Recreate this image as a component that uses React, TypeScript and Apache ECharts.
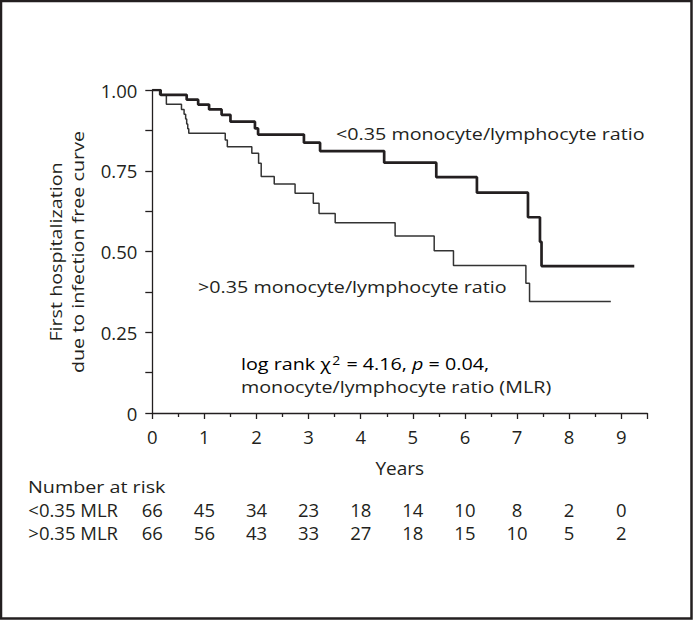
import React, { useEffect, useRef } from "react";
import * as echarts from "echarts";

const lowTimes = [0, 0.16, 0.66, 0.88, 1.09, 1.33, 1.5, 1.97, 2.03, 2.91, 3.22, 4.45, 5.45, 6.23, 7.21, 7.44, 7.47, 9.25];
const lowSurv = [1.0, 0.985, 0.97, 0.955, 0.94, 0.923, 0.902, 0.881, 0.862, 0.837, 0.811, 0.775, 0.73, 0.682, 0.606, 0.53, 0.455, 0.455];

const highTimes = [0, 0.14, 0.27, 0.56, 0.61, 0.64, 0.66, 0.68, 0.7, 0.72, 1.4, 1.44, 1.91, 2.04, 2.09, 2.34, 2.74, 3.09, 3.2, 3.51, 4.66, 5.41, 5.78, 7.17, 7.24, 8.8];
const highSurv = [1.0, 0.985, 0.956, 0.94, 0.925, 0.91, 0.895, 0.88, 0.866, 0.866, 0.845, 0.824, 0.804, 0.773, 0.732, 0.709, 0.68, 0.649, 0.618, 0.589, 0.548, 0.502, 0.457, 0.402, 0.345, 0.345];

const riskYears = [0, 1, 2, 3, 4, 5, 6, 7, 8, 9];
const riskLow = [66, 45, 34, 23, 18, 14, 10, 8, 2, 0];
const riskHigh = [66, 56, 43, 33, 27, 18, 15, 10, 5, 2];
const riskRows = ["<0.35 MLR", ">0.35 MLR"];

const yTicks = [0, 0.25, 0.5, 0.75, 1.0];

const FONT = "'Open Sans', 'Noto Sans', sans-serif";
const INK = "#231f20";
const FS = 17;
const SX = 1.16;
const NUM_FS = 18.5;

export default function App() {
  const ref = useRef<HTMLDivElement>(null);
  useEffect(() => {
    document.body.style.margin = "0";
    const chart = echarts.init(ref.current!, null, { renderer: "svg" });
    const lowData = lowTimes.map((t, i) => [t, lowSurv[i]]);
    const highData = highTimes.map((t, i) => [t, highSurv[i]]);
    const riskData: any[] = [];
    riskYears.forEach((y, i) => {
      riskData.push([y, 0, riskLow[i]]);
      riskData.push([y, 1, riskHigh[i]]);
    });
    const txt = (text: string, x: number, y: number) => ({
      type: "text",
      x,
      y,
      scaleX: SX,
      style: { text, fontSize: FS, fontFamily: FONT, fill: INK, verticalAlign: "middle" },
    });
    chart.setOption({
      animation: false,
      textStyle: { fontFamily: FONT, color: INK },
      grid: [
        { left: 152.3, top: 90, width: 495, height: 323 },
        { left: 152.3, top: 498, width: 495, height: 46 },
      ],
      xAxis: [
        {
          gridIndex: 0,
          type: "value",
          min: 0,
          max: 9.5,
          interval: 1,
          name: "Years",
          nameLocation: "middle",
          nameGap: 45,
          nameTextStyle: { fontSize: 19, color: INK, fontFamily: FONT },
          axisLine: { lineStyle: { color: INK, width: 1.3 } },
          axisTick: { length: 6, lineStyle: { color: INK, width: 1.3 } },
          minorTick: { show: true, splitNumber: 2, length: 4, lineStyle: { color: INK, width: 1.3 } },
          splitLine: { show: false },
          axisLabel: {
            margin: 14,
            fontSize: NUM_FS,
            color: INK,
            fontFamily: FONT,
            formatter: (v: number) => (Number.isInteger(v) ? String(v) : ""),
          },
        },
        {
          gridIndex: 1,
          type: "value",
          min: 0,
          max: 9.5,
          show: false,
        },
      ],
      yAxis: [
        {
          gridIndex: 0,
          type: "value",
          min: 0,
          max: 1,
          interval: 0.25,
          axisLine: { show: true, lineStyle: { color: INK, width: 1.3 } },
          axisTick: { show: true, length: 7, lineStyle: { color: INK, width: 1.3 } },
          minorTick: { show: true, splitNumber: 2, length: 7, lineStyle: { color: INK, width: 1.3 } },
          splitLine: { show: false },
          axisLabel: {
            margin: 15,
            fontSize: NUM_FS,
            color: INK,
            fontFamily: FONT,
            customValues: yTicks,
            formatter: (v: number) => (v === 0 ? "0" : v.toFixed(2)),
          },
        },
        {
          gridIndex: 1,
          type: "category",
          data: riskRows,
          inverse: true,
          axisLine: { show: false },
          axisTick: { show: false },
          splitLine: { show: false },
          axisLabel: {
            interval: 0,
            hideOverlap: false,
            margin: 124,
            align: "left",
            fontSize: 18.5,
            lineHeight: 19,
            color: INK,
            fontFamily: FONT,
          },
        },
      ],
      series: [
        {
          type: "line",
          step: "end",
          data: highData,
          symbol: "none",
          lineStyle: { color: "#333", width: 1.5 },
          z: 2,
        },
        {
          type: "line",
          step: "end",
          data: lowData,
          symbol: "none",
          lineStyle: { color: INK, width: 2.7 },
          z: 3,
        },
        {
          type: "custom",
          xAxisIndex: 1,
          yAxisIndex: 1,
          data: riskData,
          renderItem: (params: any, api: any) => {
            const p = api.coord([api.value(0), api.value(1)]);
            return {
              type: "text",
              x: p[0],
              y: p[1],
              style: {
                text: String(api.value(2)),
                fontSize: NUM_FS,
                lineHeight: 19,
                fontFamily: FONT,
                fill: INK,
                align: "center",
                verticalAlign: "middle",
              },
            };
          },
        },
      ],
      graphic: [
        {
          type: "rect",
          shape: { x: 1, y: 1, width: 690.5, height: 617.5 },
          style: { fill: "none", stroke: INK, lineWidth: 2.5 },
          silent: true,
        },
        {
          type: "text",
          x: 66,
          y: 252,
          rotation: Math.PI / 2,
          scaleX: SX,
          style: {
            text: "First hospitalization\ndue to infection free curve",
            fontSize: FS,
            fontFamily: FONT,
            fill: INK,
            align: "center",
            verticalAlign: "middle",
            lineHeight: 22,
          },
        },
        txt("<0.35 monocyte/lymphocyte ratio", 336, 133),
        txt(">0.35 monocyte/lymphocyte ratio", 198, 286),
        {
          type: "text",
          x: 241,
          y: 363,
          scaleX: SX,
          style: {
            text: "{n|log rank χ}{s|2}{n| = 4.16, }{i|p}{n| = 0.04,}",
            verticalAlign: "middle",
            rich: {
              n: { fontSize: FS, fontFamily: FONT, color: INK },
              s: { fontSize: 12, fontFamily: FONT, color: INK, verticalAlign: "top", padding: [0, 1, 6, 1] },
              i: { fontSize: FS, fontFamily: FONT, color: INK, fontStyle: "italic" },
            },
          },
        },
        txt("monocyte/lymphocyte ratio (MLR)", 241, 386),
        txt("Number at risk", 28, 486),
      ],
    });
    return () => chart.dispose();
  }, []);
  return <div ref={ref} style={{ width: 693, height: 620 }} />;
}
